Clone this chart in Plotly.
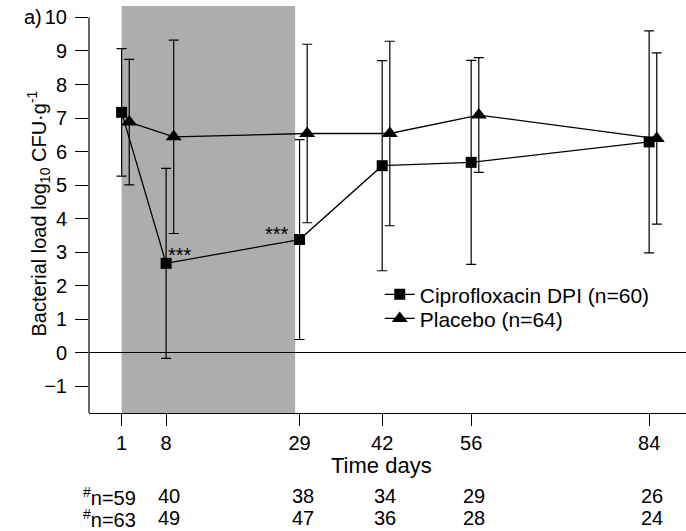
import plotly.graph_objects as go

# ---- data ----
days = [1, 8, 29, 42, 56, 84]
cipro_mean = [7.17, 2.67, 3.38, 5.58, 5.68, 6.29]
cipro_sd = [1.90, 2.83, 2.98, 3.13, 3.04, 3.31]
placebo_mean = [6.88, 6.44, 6.54, 6.54, 7.09, 6.39]
placebo_sd = [1.87, 2.88, 2.66, 2.75, 1.71, 2.55]
n_cipro = ["40", "38", "34", "29", "26"]
n_placebo = ["49", "47", "36", "28", "24"]
n_days = [8, 29, 42, 56, 84]
tick_days = [1, 8, 29, 42, 56, 84]
y_ticks = list(range(-1, 11))
treat_start, treat_end = 1, 28.3
cipro_name = "Ciprofloxacin DPI (n=60)"
placebo_name = "Placebo (n=64)"

# ---- styles ----
FONT = "Liberation Sans, Arial, sans-serif"
DODGE = 1.2
XR = [-4.13, 89.8]
YR = [-1.79, 10.34]

placebo_x = [d + DODGE for d in days]

fig = go.Figure()
fig.add_trace(go.Scatter(
    x=days, y=cipro_mean, name=cipro_name, mode="lines+markers",
    line=dict(color="black", width=1.3),
    marker=dict(symbol="square", size=11, color="black"),
    error_y=dict(type="data", array=cipro_sd, visible=True, color="black",
                 thickness=1.2, width=5),
    legend="legend",
))
fig.add_trace(go.Scatter(
    x=placebo_x, y=placebo_mean, name=placebo_name, mode="lines+markers",
    line=dict(color="black", width=1.3),
    marker=dict(symbol="triangle-up", size=14, color="black"),
    error_y=dict(type="data", array=placebo_sd, visible=True, color="black",
                 thickness=1.2, width=5),
    legend="legend2",
))

shapes = [
    dict(type="rect", xref="x", yref="paper", x0=treat_start, x1=treat_end,
         y0=0, y1=1, fillcolor="#ADADAD", line=dict(width=0), layer="below"),
    dict(type="line", xref="paper", yref="y", x0=0, x1=0, y0=YR[0], y1=10,
         line=dict(color="black", width=1.2)),
]

def ann(text, x, y, xref="x", yref="paper", xanchor="center", xshift=0,
        size=20, **kw):
    return dict(text=text, xref=xref, yref=yref, x=x, y=y, xanchor=xanchor,
                yanchor="middle", xshift=xshift, showarrow=False,
                font=dict(family=FONT, size=size, color="black"), **kw)

annotations = [
    ann("a)", 0, 10, xref="paper", yref="y", xanchor="right", xshift=-45),
    ann("***", 8, 2.91, yref="y", xanchor="left", xshift=0, size=20),
    ann("***", 29, 3.54, yref="y", xanchor="right", xshift=-9, size=20),
    ann("Time days", 0.49, -0.13, xref="paper", size=22),
    ann("Bacterial load log<sub>10</sub> CFU·g<sup>-1</sup>", 0, 0.49,
        xref="paper", xanchor="center", xshift=-50, size=20, textangle=-90),
    ann("<sup>#</sup>n=59", 0, -0.204, xref="paper", xanchor="left", xshift=-8),
    ann("<sup>#</sup>n=63", 0, -0.259, xref="paper", xanchor="left", xshift=-8),
]
for d, a, b in zip(n_days, n_cipro, n_placebo):
    annotations.append(ann(a, d, -0.204, xshift=3))
    annotations.append(ann(b, d, -0.259, xshift=3))

leg_common = dict(xanchor="left", yanchor="top", bgcolor="rgba(0,0,0,0)",
                  font=dict(family=FONT, size=21, color="black"),
                  itemwidth=30)

fig.update_layout(
    width=686, height=531,
    margin=dict(l=89, r=0, t=6, b=118),
    paper_bgcolor="white", plot_bgcolor="white",
    font=dict(family=FONT, size=20, color="black"),
    showlegend=True,
    legend=dict(x=0.487, y=0.341, **leg_common),
    legend2=dict(x=0.487, y=0.282, **leg_common),
    xaxis=dict(range=XR, tickmode="array", tickvals=tick_days,
               ticktext=[str(t) for t in tick_days],
               showgrid=False, zeroline=False, showline=True,
               linecolor="black", linewidth=1.2, ticks="outside",
               ticklen=12, tickwidth=1.2, tickcolor="black",
               tickfont=dict(family=FONT, size=20)),
    yaxis=dict(range=YR, tickmode="array", tickvals=y_ticks,
               showgrid=False, zeroline=True, zerolinecolor="black",
               zerolinewidth=1.2, showline=False, ticks="outside",
               ticklen=13, tickwidth=1.2, tickcolor="black",
               ticklabelstandoff=4,
               tickfont=dict(family=FONT, size=20)),
    shapes=shapes, annotations=annotations,
)

fig.write_html("out.html")
